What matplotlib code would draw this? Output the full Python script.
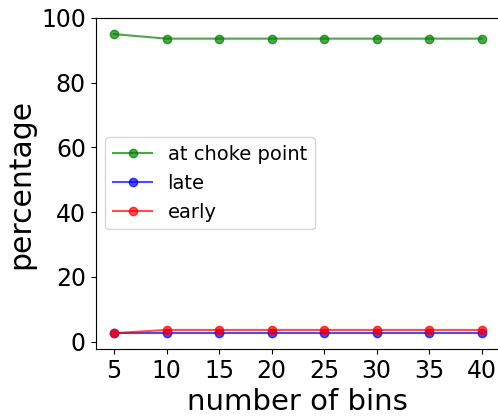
import matplotlib
matplotlib.use("Agg")
import matplotlib.pyplot as plt

# percentage of events per category vs. number of bins
n_bins = [5, 10, 15, 20, 25, 30, 35, 40]
at_choke = [95.0, 93.6, 93.6, 93.6, 93.6, 93.6, 93.6, 93.6]
late = [2.6, 2.6, 2.6, 2.6, 2.6, 2.6, 2.6, 2.6]
early = [2.6, 3.6, 3.6, 3.6, 3.6, 3.6, 3.6, 3.6]

fig = plt.figure(figsize=(4.98, 4.17), dpi=100)
ax = fig.add_axes([0.192, 0.163, 0.812, 0.794])

ax.plot(n_bins, at_choke, 'o-', color='g', alpha=0.7, label='at choke point')
ax.plot(n_bins, late, 'o-', color='b', alpha=0.7, label='late')
ax.plot(n_bins, early, 'o-', color='r', alpha=0.7, label='early')

ax.set_ylim(-2.3, 100)
ax.set_xticks(n_bins)
ax.tick_params(labelsize=17)
ax.set_xlabel('number of bins', fontsize=21)
ax.set_ylabel('percentage', fontsize=21.5)
ax.legend(loc='center left', fontsize=14)

fig.savefig('out.png', dpi=100)
